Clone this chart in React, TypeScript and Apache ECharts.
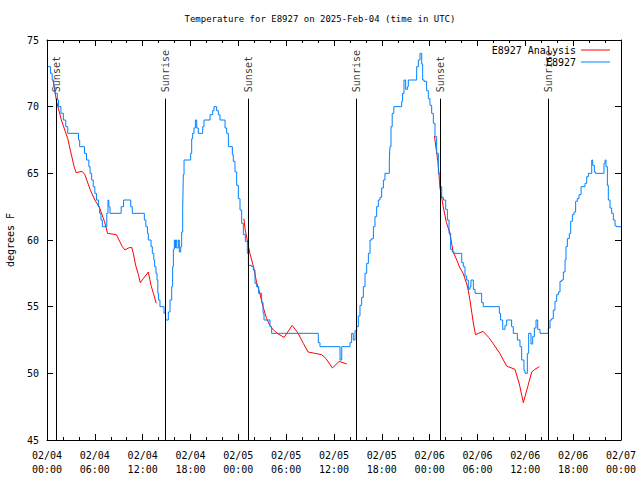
import React, { useEffect, useRef } from 'react';
import * as echarts from 'echarts';

const FONT = '"DejaVu Sans Mono", "Liberation Mono", monospace';

const TITLE = 'Temperature for E8927 on 2025-Feb-04 (time in UTC)';
const Y_NAME = 'degrees F';
const SERIES_NAMES = ['E8927 Analysis', 'E8927'];

// hours since 02/04 00:00 UTC
const analysisTimes = [
  0.75, 1.2, 1.8, 2.6, 3.4, 3.65, 4.4, 4.75, 5.4, 6.0, 6.6, 7.2, 7.6, 8.7, 9.03, 9.45, 9.78, 10.2, 10.62, 10.83, 11.12, 11.46, 11.7, 12.08, 12.71, 13.05, 13.34, 13.7,
  14.0,
  24.7, 24.85, 25.45, 25.9, 26.3, 26.7, 27.1, 27.55, 27.95, 28.4, 29.0, 29.75, 30.75, 31.5, 32.15, 32.75, 33.6, 34.45, 35.0, 35.8, 36.65, 37.6,
  43.0,
  48.6, 48.8, 49.05, 49.3, 49.7, 50.1, 50.5, 50.95, 51.4, 51.8, 52.2, 52.65, 52.85, 53.05, 53.3, 53.5, 53.75, 54.7, 55.4, 56.0, 56.8, 57.65, 58.7, 59.25, 59.75, 60.3, 60.8, 61.2, 61.75,
];
const analysisTemps: (number | null)[] = [
  72.0, 70.4, 69.0, 67.6, 65.5, 65.05, 65.15, 64.9, 63.8, 63.0, 62.4, 61.4, 60.5, 60.4, 60.0, 59.5, 59.25, 59.4, 59.45, 59.0, 58.1, 57.4, 56.8, 57.1, 57.6, 56.6, 56.0, 55.25,
  null,
  61.6, 60.8, 59.0, 58.0, 56.8, 56.0, 55.0, 54.1, 53.6, 53.25, 52.95, 52.7, 53.6, 53.0, 52.25, 51.6, 51.5, 51.4, 51.1, 50.4, 50.9, 50.7,
  null,
  67.8, 66.9, 65.8, 63.9, 62.5, 61.3, 60.6, 59.1, 58.5, 57.9, 57.5, 56.7, 56.2, 55.5, 54.5, 53.7, 52.9, 53.15, 52.7, 52.2, 51.5, 50.55, 50.3, 49.2, 47.8, 49.0, 50.1, 50.3, 50.5,
];

const obsTimes = [
  0.1, 0.45, 0.65, 0.85, 1.0, 1.3, 1.45, 1.75, 2.05, 2.35, 2.6, 3.95, 4.1, 4.7, 4.95, 5.25, 5.4, 5.6, 5.8, 6.0, 6.2, 6.45, 6.6, 6.77, 6.94, 7.5, 7.65, 7.75, 7.9, 9.3, 9.6, 10.5, 10.7,
  12.21, 12.4, 12.6, 12.71, 13.05, 13.21, 13.4, 13.5, 13.67, 13.8, 13.9, 14.0, 14.17,
  14.68, 14.88, 15.22, 15.43, 15.64, 15.76, 15.85, 15.97, 16.1, 16.18, 16.27, 16.47, 16.6, 16.77, 16.89, 17.02, 17.1, 17.19, 18.02, 18.15, 18.27, 18.44, 18.61, 18.78, 18.98,
  19.53, 19.69, 20.45, 20.78, 20.95, 21.28, 21.49, 21.7, 22.33, 22.54, 22.75, 23.25, 23.37, 23.58, 23.79, 24.0, 24.21, 24.42, 24.63, 24.88, 25.13, 25.26, 25.67, 25.88,
  26.09, 26.3, 26.55, 26.93, 27.1, 27.22, 27.97, 28.18, 34.03, 34.24, 36.76, 36.97, 38.0, 38.21, 38.42, 38.64, 38.84, 39.05, 39.26, 39.47, 39.68, 39.89, 40.1, 40.31,
  40.52, 40.73, 40.94, 41.14, 41.35, 41.56, 41.77, 41.98, 42.19, 42.39, 42.94, 43.02, 43.15, 43.3, 43.5, 44.49, 44.6, 44.78, 44.99, 45.2, 45.32, 46.37, 46.58, 46.79,
  47.0, 47.12, 47.29, 47.62, 47.83, 48.04, 48.25, 48.46, 48.67, 48.88, 49.09, 49.3, 49.51, 49.72, 50.01, 50.22, 50.43, 50.63, 50.84, 51.05, 52.02, 52.22, 52.43, 52.64,
  52.85, 53.06, 53.18, 53.48, 53.69, 54.52, 54.73, 56.74, 56.9, 57.16, 57.45, 57.66, 58.28, 58.49, 59.0, 59.33, 59.54, 59.83, 59.96, 60.25, 60.42, 60.71, 60.92, 61.13,
  61.34, 61.55, 61.84, 62.89, 63.1, 63.31, 63.51, 63.72, 63.93, 64.14, 64.35, 64.56, 64.77, 64.98, 65.1, 65.27, 65.52, 65.69, 65.9, 66.11, 66.31, 66.52, 66.73, 66.99,
  67.49, 67.7, 67.91, 68.33, 68.45, 68.66, 68.83, 69.87, 70.0, 70.12, 70.29, 70.41, 70.62, 70.83, 71.04, 71.25, 71.37, 72.0,
];
const obsTemps = [
  73, 72.5, 72, 71.5, 71, 70.5, 70, 69.5, 69, 68.5, 68, 67.5, 67, 66.5, 66, 65.5, 65, 64.5, 64, 63.5, 63, 62.5, 62, 61.5, 61, 62, 63, 62.5, 62, 62.5, 63, 62.5, 62,
  61.5, 61, 60.5, 60, 59.5, 59, 58.5, 58, 57.5, 57, 56, 55.5, 55,
  54.5, 54, 54.6, 55.5, 56.5, 58, 59.3, 60, 59.4, 60, 59.4, 60, 59.1, 59.5, 60.6, 62.3, 64.9, 66, 66.5, 67.6, 68, 68.4, 69, 68.4, 68,
  68.5, 69, 69.4, 69.7, 70, 69.7, 69.4, 69, 68.4, 68, 67, 66.4, 65.9, 65.1, 64.1, 63.1, 62.25, 61.25, 60.4, 59.9, 59, 58.1, 58, 57.75,
  56.75, 56.5, 56, 55.3, 54.5, 54, 53.5, 53, 52.3, 52, 51, 52, 52.3, 53, 52.5, 53.2, 53.5, 54.3, 55.1, 55.7, 56.5, 57.5, 58.25, 59,
  60, 60.1, 61, 61.75, 62.5, 63, 63.2, 63.9, 64.5, 65, 66, 67, 68.5, 69.5, 70, 70.4, 71, 72, 71.3, 71.5, 72, 73, 73.5, 74,
  73.2, 72, 71.9, 71.2, 70.6, 70.1, 69.5, 68.75, 67.75, 66.5, 65, 64, 63.2, 63, 62.3, 61.5, 60.5, 59.3, 59.1, 59, 58.3, 58, 57.3, 57,
  56.3, 56.5, 57, 56.3, 56, 55.3, 55, 54.5, 54, 53.3, 53.6, 54, 53.5, 53, 52.5, 52, 51, 50.2, 50, 51.5, 53, 52.2, 52.75, 53.4,
  54, 53.3, 53, 53.4, 54, 54.1, 54.75, 55.4, 55.9, 56.1, 56.9, 57, 57.6, 58.5, 59.5, 60.1, 60.5, 61.4, 61.9, 62.1, 62.9, 63.1, 63.4, 64,
  64.25, 64.75, 65, 66, 65.6, 65.1, 65, 65.75, 66, 65.5, 64.1, 63, 62.4, 62, 61.5, 61.1, 61, 61,
];

const sunTimes = [1.2, 14.88, 25.25, 38.83, 49.35, 62.92];
const sunLabels = ['Sunset', 'Sunrise', 'Sunset', 'Sunrise', 'Sunset', 'Sunrise'];
const SUN_TOP = 70.6;

const X_MIN = 0;
const X_MAX = 72;
const X_STEP = 6;
const Y_MIN = 45;
const Y_MAX = 75;
const Y_STEP = 5;

function xLabel(v: number) {
  const d = 4 + Math.floor(v / 24);
  const h = v % 24;
  return `02/0${d}\n${String(h).padStart(2, '0')}:00`;
}

export default function App() {
  const ref = useRef<HTMLDivElement>(null);
  useEffect(() => {
    if (!ref.current) return;
    const chart = echarts.init(ref.current, undefined, { renderer: 'svg' });
    const txt = { fontFamily: FONT, fontSize: 10, color: '#000' };
    const axisLine = { show: true, onZero: false, lineStyle: { color: '#000', width: 1 } };
    const xCommon = {
      type: 'value',
      min: X_MIN,
      max: X_MAX,
      interval: X_STEP,
      axisLine,
      axisTick: { show: true, inside: true, length: 6, lineStyle: { color: '#000' } },
      minorTick: { show: true, splitNumber: 3, length: 3, lineStyle: { color: '#000' } },
      splitLine: { show: false },
      minorSplitLine: { show: false },
    };
    const yCommon = {
      type: 'value',
      min: Y_MIN,
      max: Y_MAX,
      interval: Y_STEP,
      axisLine,
      axisTick: { show: true, inside: true, length: 6, lineStyle: { color: '#000' } },
      splitLine: { show: false },
    };
    const analysisData = analysisTimes.map((t, i) => [t, analysisTemps[i] === null ? '-' : analysisTemps[i]]);
    const obsData = obsTimes.map((t, i) => [t, obsTemps[i]]);
    chart.setOption({
      animation: false,
      backgroundColor: '#fff',
      title: {
        text: TITLE,
        left: 'center',
        top: 14,
        padding: 0,
        textStyle: { ...txt, fontSize: 9, fontWeight: 'normal' },
      },
      legend: {
        data: SERIES_NAMES,
        orient: 'vertical',
        right: 30,
        top: 44,
        padding: 0,
        align: 'right',
        icon: 'rect',
        itemWidth: 29,
        itemHeight: 1,
        itemGap: 0,
        textStyle: { ...txt, lineHeight: 12 },
      },
      grid: { left: 47, right: 19, top: 40, bottom: 40, outerBoundsMode: 'none', containLabel: false },
      xAxis: [
        {
          ...xCommon,
          position: 'bottom',
          axisLabel: { ...txt, formatter: xLabel, lineHeight: 14, margin: 8, showMinLabel: true, showMaxLabel: true },
        },
        { ...xCommon, position: 'top', axisLabel: { show: false } },
      ],
      yAxis: [
        {
          ...yCommon,
          position: 'left',
          name: Y_NAME,
          nameLocation: 'middle',
          nameRotate: 90,
          nameGap: 32,
          nameTextStyle: txt,
          axisLabel: { ...txt, margin: 8 },
        },
        { ...yCommon, position: 'right', axisLabel: { show: false } },
      ],
      series: [
        {
          name: SERIES_NAMES[0],
          type: 'line',
          data: analysisData,
          symbol: 'none',
          showSymbol: false,
          connectNulls: false,
          itemStyle: { color: '#ff0000' },
          lineStyle: { color: '#ff0000', width: 1 },
        },
        {
          name: SERIES_NAMES[1],
          type: 'line',
          data: obsData,
          step: 'end',
          symbol: 'none',
          showSymbol: false,
          itemStyle: { color: '#0080ff' },
          lineStyle: { color: '#0080ff', width: 1 },
        },
        {
          name: 'sun',
          type: 'scatter',
          data: sunTimes.map((t, i) => [t, SUN_TOP, sunLabels[i]]),
          symbolSize: 1,
          silent: true,
          itemStyle: { color: 'rgba(0,0,0,0)' },
          label: {
            show: true,
            formatter: (p: any) => p.data[2],
            position: 'top',
            distance: 6,
            rotate: 90,
            align: 'left',
            verticalAlign: 'middle',
            ...txt,
          },
          markLine: {
            silent: true,
            symbol: ['none', 'none'],
            label: { show: false },
            lineStyle: { color: '#000', width: 1, type: 'solid' },
            data: sunTimes.map((t) => [{ coord: [t, Y_MIN] }, { coord: [t, SUN_TOP] }]),
          },
        },
      ],
    });
    return () => chart.dispose();
  }, []);
  return <div ref={ref} style={{ position: 'fixed', left: 0, top: 0, width: 640, height: 480 }} />;
}
